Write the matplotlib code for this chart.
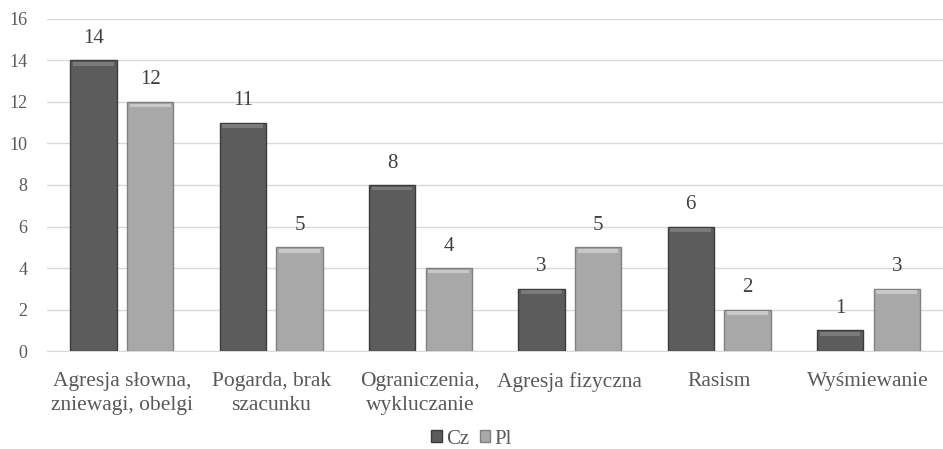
import numpy as np
import matplotlib.pyplot as plt
from matplotlib.patches import Patch

categories = ["Agresja słowna,\nzniewagi, obelgi", "Pogarda, brak\nszacunku",
              "Ograniczenia,\nwykluczanie", "Agresja fizyczna", "Rasism", "Wyśmiewanie"]
cz = [14, 11, 8, 3, 6, 1]
pl = [12, 5, 4, 5, 2, 3]

plt.rcParams['font.family'] = ['Liberation Serif', 'DejaVu Serif']
txt = "#595959"

fig = plt.figure(figsize=(9.43, 4.49), dpi=100)
ax = fig.add_axes([0.05, 0.218, 0.95, 0.74])

x = np.arange(len(categories))
w = 0.31
off = 0.19

for vals, dx, col, edge, top in [(cz, -off, "#5c5c5c", "#3c3c3c", "#7a7a7a"),
                                  (pl, off, "#a8a8a8", "#808080", "#c8c8c8")]:
    ax.bar(x + dx, vals, w, color=col, edgecolor=edge, linewidth=1.0, zorder=3)
    # bevel highlight along the top of each bar
    ax.bar(x + dx, [0.18] * len(vals), w * 0.88, bottom=np.array(vals) - 0.26,
           color=top, linewidth=0, zorder=4)
    for xi, v in zip(x + dx, vals):
        ax.text(xi, v + 0.6, str(v), ha="center", va="bottom", fontsize=15, color="#404040")

ax.set_ylim(0, 16)
ax.set_xlim(-0.5, len(categories) - 0.5)
ax.set_yticks(range(0, 17, 2))
ax.set_xticks(x)
ax.set_xticklabels(categories, fontsize=15.5, color=txt, linespacing=1.35)
ax.tick_params(axis="y", labelsize=13, colors=txt, length=0, pad=14)
ax.tick_params(axis="x", length=0, pad=15)
ax.grid(axis="y", color="#d9d9d9", linewidth=1, zorder=0)
for s in ["top", "right", "left"]:
    ax.spines[s].set_visible(False)
ax.spines["bottom"].set_color("#d9d9d9")

handles = [Patch(facecolor="#5c5c5c", edgecolor="#3c3c3c", label="Cz"),
           Patch(facecolor="#a8a8a8", edgecolor="#808080", label="Pl")]
leg = fig.legend(handles=handles, loc="center", bbox_to_anchor=(0.5, 0.022), ncol=2,
                 frameon=False, fontsize=15, handlelength=0.5, handleheight=0.5,
                 handletextpad=0.2, columnspacing=0.5)
for t in leg.get_texts():
    t.set_color(txt)

fig.savefig("out.png", dpi=100)
